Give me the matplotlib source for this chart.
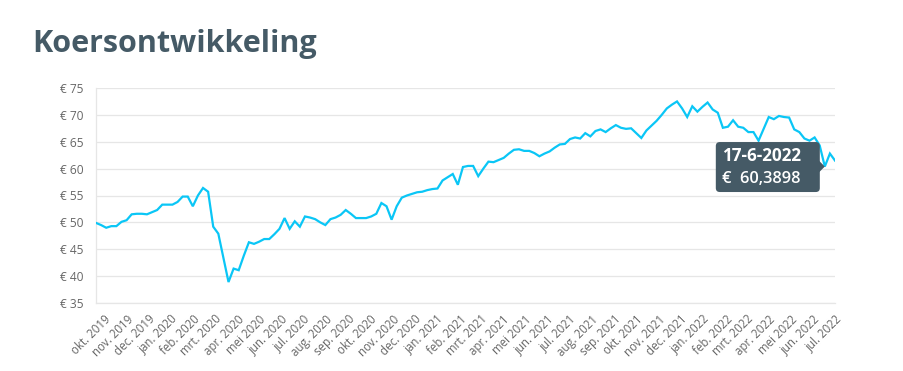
import matplotlib
matplotlib.use("Agg")
import matplotlib.pyplot as plt
import matplotlib.dates as mdates
import matplotlib.transforms as mtransforms
from matplotlib.patches import FancyBboxPatch, Polygon
import pandas as pd
import numpy as np

plt.rcParams['font.family'] = ['Open Sans', 'DejaVu Sans']

# ---------------- data ----------------
title = "Koersontwikkeling"
start_date = "2019-09-27"
end_date = "2022-07-08"
values = [
    49.9, 49.5, 49.0, 49.3, 49.3, 50.1, 50.4, 51.5, 51.6, 51.6,
    51.5, 51.9, 52.3, 53.3, 53.3, 53.3, 53.8, 54.8, 54.8, 53.0,
    55.0, 56.4, 55.7, 49.2, 47.9, 43.4, 38.9, 41.4, 41.1, 43.8,
    46.3, 46.0, 46.4, 46.9, 46.9, 47.8, 48.8, 50.8, 48.8, 50.2,
    49.2, 51.1, 50.9, 50.6, 50.0, 49.5, 50.6, 50.9, 51.4, 52.3,
    51.6, 50.8, 50.8, 50.8, 51.1, 51.6, 53.6, 53.0, 50.5, 53.0,
    54.6, 55.0, 55.3, 55.6, 55.7, 56.0, 56.2, 56.3, 57.8, 58.4,
    59.0, 57.0, 60.3, 60.5, 60.5, 58.6, 60.0, 61.3, 61.2, 61.6,
    62.0, 62.8, 63.5, 63.6, 63.3, 63.3, 62.9, 62.3, 62.8, 63.2,
    63.9, 64.5, 64.6, 65.5, 65.8, 65.6, 66.6, 66.0, 67.0, 67.3,
    66.8, 67.5, 68.1, 67.6, 67.4, 67.5, 66.6, 65.7, 67.1, 68.0,
    68.9, 70.0, 71.2, 71.9, 72.5, 71.2, 69.6, 71.6, 70.6, 71.5,
    72.3, 71.0, 70.4, 67.6, 67.8, 69.0, 67.8, 67.6, 66.8, 66.8,
    65.2, 67.4, 69.6, 69.2, 69.8, 69.6, 69.5, 67.3, 66.8, 65.6,
    65.2, 65.8, 64.3, 60.3898, 62.8, 61.5,
]
dates = pd.date_range(start_date, end_date, freq="W-FRI")

tick_dates = pd.date_range("2019-10-01", "2022-07-01", freq="MS")
tick_labels = [
    "okt. 2019", "nov. 2019", "dec. 2019", "jan. 2020", "feb. 2020", "mrt. 2020",
    "apr. 2020", "mei 2020", "jun. 2020", "jul. 2020", "aug. 2020", "sep. 2020",
    "okt. 2020", "nov. 2020", "dec. 2020", "jan. 2021", "feb. 2021", "mrt. 2021",
    "apr. 2021", "mei 2021", "jun. 2021", "jul. 2021", "aug. 2021", "sep. 2021",
    "okt. 2021", "nov. 2021", "dec. 2021", "jan. 2022", "feb. 2022", "mrt. 2022",
    "apr. 2022", "mei 2022", "jun. 2022", "jul. 2022",
]
y_ticks = [35, 40, 45, 50, 55, 60, 65, 70, 75]
y_tick_labels = ["€ 35", "€ 40", "€ 45", "€ 50", "€ 55", "€ 60", "€ 65", "€ 70", "€ 75"]

tooltip_index = 143
tooltip_date = "17-6-2022"
tooltip_value = "€  60,3898"

# ---------------- figure ----------------
W, H = 904, 371
fig = plt.figure(figsize=(W / 100, H / 100), dpi=100)
ax = fig.add_axes([96 / W, 68 / H, (835 - 96) / W, (303 - 88) / H])

line_color = "#0ac6f6"
grid_color = "#e6e6e6"
text_gray = "#666666"
dark = "#455a66"

ax.plot(dates, values, color=line_color, lw=1.6, solid_joinstyle="miter", zorder=3)
ax.set_xlim(dates[0], dates[-1])
ax.set_ylim(35, 75)

ax.set_yticks(y_ticks)
ax.set_yticklabels(y_tick_labels)
ax.set_xticks(tick_dates)
ax.set_xticklabels(tick_labels)

ax.grid(axis="y", color=grid_color, lw=0.9)
ax.grid(axis="x", visible=False)
for s in ["top", "right"]:
    ax.spines[s].set_visible(False)
for s in ["left", "bottom"]:
    ax.spines[s].set_color(grid_color)
    ax.spines[s].set_linewidth(0.9)

ax.tick_params(axis="y", length=0, pad=9, labelsize=8.6, labelcolor=text_gray)
ax.tick_params(axis="x", length=0, pad=7, labelsize=8.3, labelcolor=text_gray)
offset = mtransforms.ScaledTranslation(5 / 100, 0, fig.dpi_scale_trans)
for lbl in ax.get_xticklabels():
    lbl.set_rotation(45)
    lbl.set_ha("right")
    lbl.set_va("top")
    lbl.set_rotation_mode("anchor")
    lbl.set_transform(lbl.get_transform() + offset)

fig.text(32 / W, (H - 52) / H, title, fontsize=22, fontweight="bold",
         color=dark, ha="left", va="baseline")

# ---------------- tooltip ----------------
fig.canvas.draw()
px, py = ax.transData.transform((mdates.date2num(dates[tooltip_index]), values[tooltip_index]))
box_r = px - 5
box_l = px - 109
box_b = py - 25.5
box_t = py + 24.5
box = FancyBboxPatch((box_l, box_b), box_r - box_l, box_t - box_b,
                     boxstyle="round,pad=0,rounding_size=4",
                     transform=None, facecolor=dark, edgecolor="none", zorder=10)
fig.patches.append(box)
tri = Polygon([[box_r - 1, py + 6], [px, py], [box_r - 1, py - 6]], closed=True,
              transform=None, facecolor=dark, edgecolor="none", zorder=10)
fig.patches.append(tri)
inv = fig.transFigure.inverted()
t1 = inv.transform((box_l + 6, py + 6))
t2 = inv.transform((box_l + 6, py - 16))
fig.text(t1[0], t1[1], tooltip_date, color="white", fontsize=12.3,
         fontweight="bold", ha="left", va="baseline", zorder=11)
fig.text(t2[0], t2[1], tooltip_value, color="white", fontsize=11.8,
         fontweight="semibold", ha="left", va="baseline", zorder=11)

fig.savefig("out.png", dpi=100)
